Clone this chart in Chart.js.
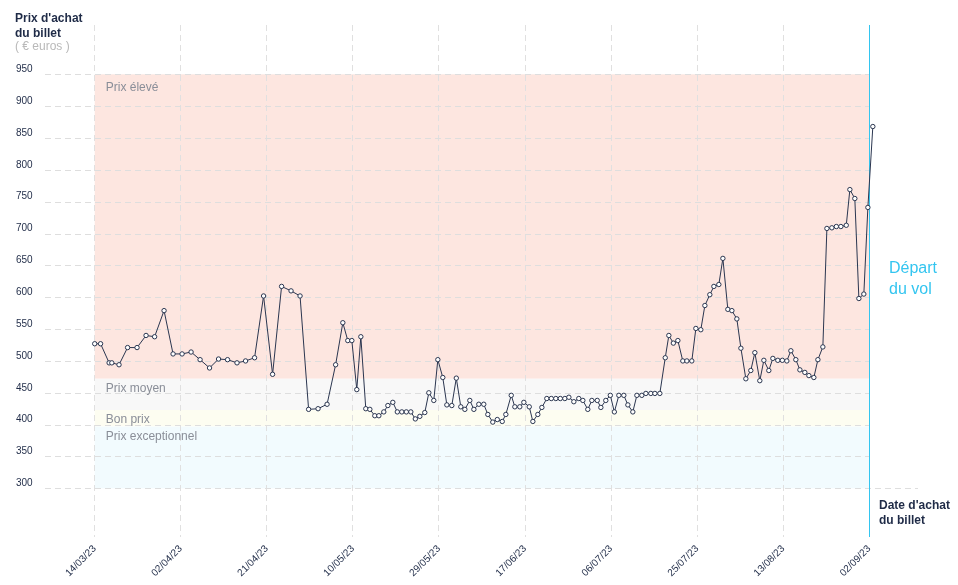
<!DOCTYPE html>
<html>
<head>
<meta charset="utf-8">
<title>Prix d'achat du billet</title>
<script src="https://cdn.jsdelivr.net/npm/chart.js@4.4.1/dist/chart.umd.min.js"></script>
<style>
    body { margin: 0; background: #ffffff; }
    #wrap { width: 958px; height: 585px; position: relative; }
</style>
</head>
<body>
<div id="wrap"><canvas id="priceChart" width="958" height="585"></canvas></div>
<script>
'use strict'

// days counted from 14/03/23, the departure is on day 172 (02/09/23)
const totalDays = 172;

const dateLabels = ["14/03/23", "02/04/23", "21/04/23", "10/05/23", "29/05/23",
    "17/06/23", "06/07/23", "25/07/23", "13/08/23", "02/09/23"];

const priceTicks = [300, 350, 400, 450, 500, 550, 600, 650, 700, 750, 800, 850, 900, 950];

const purchaseDays = [
    0, 1.3, 3.2, 3.8, 5.4, 7.3, 9.4, 11.4, 13.3, 15.4,
    17.4, 19.4, 21.4, 23.4, 25.5, 27.5, 29.5, 31.6, 33.5, 35.5,
    37.5, 39.5, 41.5, 43.6, 45.6, 47.5, 49.6, 51.6, 53.5, 55.1,
    56.2, 57.1, 58.2, 59.1, 60.2, 61.1, 62.2, 63.1, 64.2, 65.1,
    66.2, 67.2, 68.2, 69.2, 70.2, 71.2, 72.2, 73.3, 74.2, 75.3,
    76.2, 77.3, 78.2, 79.3, 80.3, 81.3, 82.2, 83.3, 84.2, 85.3,
    86.4, 87.3, 88.4, 89.4, 90.5, 91.3, 92.5, 93.3, 94.4, 95.3,
    96.5, 97.3, 98.4, 99.3, 100.4, 101.4, 102.4, 103.4, 104.4, 105.3,
    106.4, 107.5, 108.4, 109.5, 110.4, 111.6, 112.4, 113.5, 114.5, 115.4,
    116.4, 117.5, 118.4, 119.5, 120.4, 121.5, 122.4, 123.5, 124.4, 125.5,
    126.7, 127.5, 128.5, 129.5, 130.6, 131.5, 132.6, 133.5, 134.6, 135.5,
    136.6, 137.5, 138.6, 139.5, 140.6, 141.5, 142.6, 143.5, 144.6, 145.7,
    146.6, 147.7, 148.6, 149.7, 150.6, 151.7, 152.7, 153.7, 154.6, 155.7,
    156.6, 157.7, 158.6, 159.7, 160.6, 161.7, 162.6, 163.7, 164.7, 165.7,
    166.9, 167.7, 168.8, 169.7, 170.8, 171.7, 172.8
];

const prices = [
    527, 527, 497, 497, 494, 521, 521, 540, 538, 579,
    511, 511, 514, 502, 489, 503, 502, 497, 500, 505,
    602, 479, 617, 610, 602, 424, 425, 432, 494, 560,
    532, 532, 455, 538, 425, 424, 414, 414, 420, 430,
    435, 420, 420, 420, 420, 409, 413, 419, 450, 438,
    502, 474, 431, 430, 473, 428, 424, 438, 424, 432,
    432, 416, 404, 408, 405, 416, 446, 428, 428, 435,
    428, 405, 416, 427, 441, 441, 441, 441, 441, 443,
    436, 441, 438, 424, 438, 438, 427, 438, 446, 420,
    446, 446, 431, 420, 446, 446, 449, 449, 449, 449,
    505, 540, 528, 532, 500, 500, 500, 551, 549, 587,
    604, 617, 620, 661, 581, 579, 566, 520, 472, 485,
    513, 469, 501, 485, 504, 501, 501, 500, 516, 502,
    486, 482, 477, 474, 502, 522, 708, 709, 711, 711,
    713, 769, 755, 598, 605, 741, 868
];

// price zones
const bandNames = ["Prix élevé", "Prix moyen", "Bon prix", "Prix exceptionnel"];
const bandTop = [950, 472, 423, 397];
const bandBottom = [472, 423, 397, 300];
const bandColors = ["#fde6e0", "#f8f8f8", "#fdfdf1", "#f2fbfe"];

const navy = "#1f2b47";
const cyan = "#33c5f0";
const fontFamily = "'Liberation Sans', Arial, sans-serif";

// background zones, guides and texts
const zonesPlugin = {
    id: 'zones',
    beforeDraw(chart) {
        const { ctx, scales: { x, y } } = chart;
        const left = x.getPixelForValue(0);
        const right = x.getPixelForValue(totalDays);
        ctx.save();
        bandNames.forEach((name, i) => {
            const top = y.getPixelForValue(bandTop[i]);
            const bottom = y.getPixelForValue(bandBottom[i]);
            ctx.fillStyle = bandColors[i];
            ctx.fillRect(left, top, right - left, bottom - top);
        });
        ctx.restore();
    },
    beforeDatasetsDraw(chart) {
        const { ctx, chartArea, scales: { x, y } } = chart;
        const left = x.getPixelForValue(0);
        const end = x.getPixelForValue(totalDays);

        ctx.save();
        // horizontal dashed lines
        ctx.strokeStyle = "#dedede";
        ctx.lineWidth = 1;
        ctx.setLineDash([6, 4]);
        priceTicks.forEach(v => {
            const py = Math.round(y.getPixelForValue(v)) + 0.5;
            ctx.beginPath();
            ctx.moveTo(chartArea.left, py);
            ctx.lineTo(v === priceTicks[0] ? chartArea.right : end, py);
            ctx.stroke();
        });
        ctx.setLineDash([]);

        // zone names
        ctx.fillStyle = "#8a8e98";
        ctx.font = "12px " + fontFamily;
        ctx.textBaseline = "middle";
        ctx.textAlign = "left";
        bandNames.forEach((name, i) => {
            const top = y.getPixelForValue(bandTop[i]);
            ctx.fillText(name, left + 11, top + (i === 0 ? 13 : 10));
        });

        // departure line
        ctx.strokeStyle = cyan;
        ctx.beginPath();
        ctx.moveTo(Math.round(end) + 0.5, chartArea.top);
        ctx.lineTo(Math.round(end) + 0.5, chartArea.bottom);
        ctx.stroke();
        ctx.restore();
    },
    afterDraw(chart) {
        const { ctx } = chart;
        ctx.save();
        ctx.textBaseline = "middle";
        ctx.textAlign = "left";

        ctx.fillStyle = navy;
        ctx.font = "bold 12px " + fontFamily;
        ctx.fillText("Prix d'achat", 15, 19);
        ctx.fillText("du billet", 15, 34);
        ctx.fillText("Date d'achat", 879, 506);
        ctx.fillText("du billet", 879, 521);

        ctx.fillStyle = "#b9b9b9";
        ctx.font = "12px " + fontFamily;
        ctx.fillText("( € euros )", 15, 47);

        ctx.fillStyle = cyan;
        ctx.font = "16px " + fontFamily;
        ctx.fillText("Départ", 889, 269);
        ctx.fillText("du vol", 889, 290);
        ctx.restore();
    }
};

const points = purchaseDays.map((d, i) => ({ x: d, y: prices[i] }));

const config = {
    type: 'line',
    data: {
        datasets: [{
            data: points,
            borderColor: "#2b3650",
            borderWidth: 1,
            tension: 0,
            pointRadius: 2.2,
            pointBorderWidth: 1,
            pointBackgroundColor: "#ffffff",
            pointBorderColor: "#2b3650",
            clip: false
        }]
    },
    options: {
        responsive: false,
        animation: false,
        layout: { padding: { left: 16, top: 25, right: 40, bottom: 0 } },
        plugins: {
            legend: { display: false },
            tooltip: { enabled: false }
        },
        scales: {
            x: {
                type: 'linear',
                min: -11.04,
                max: 182.83,
                afterBuildTicks: scale => {
                    scale.ticks = dateLabels.map((l, i) => ({ value: i * totalDays / (dateLabels.length - 1) }));
                },
                afterFit: scale => { scale.height = 48; },
                ticks: {
                    autoSkip: false,
                    maxRotation: 45,
                    minRotation: 45,
                    padding: 6,
                    color: navy,
                    font: { family: fontFamily, size: 10 },
                    callback: (value, index) => dateLabels[index]
                },
                grid: { color: "#e0e0e0", drawTicks: false },
                border: { display: false, dash: [6, 4] }
            },
            y: {
                min: 223.6,
                max: 1027.4,
                afterBuildTicks: scale => {
                    scale.ticks = priceTicks.map(v => ({ value: v }));
                },
                afterFit: scale => { scale.width = 29; },
                ticks: {
                    crossAlign: 'far',
                    padding: 0,
                    labelOffset: -5,
                    color: navy,
                    font: { family: fontFamily, size: 10 }
                },
                grid: { display: false },
                border: { display: false }
            }
        }
    },
    plugins: [zonesPlugin]
};

new Chart(document.getElementById('priceChart'), config);
</script>
</body>
</html>
